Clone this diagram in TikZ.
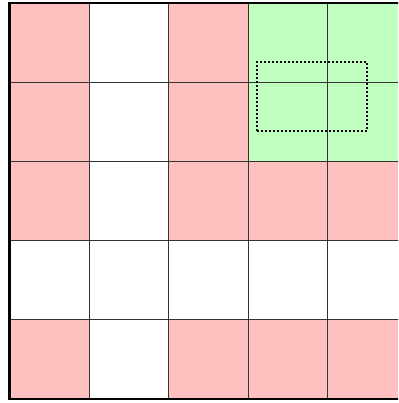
\documentclass[tikz,border=0pt]{standalone}
\definecolor{cpink}{RGB}{255,192,192}
\definecolor{cgreen}{RGB}{192,255,192}
\tikzset{
  pinkcell/.style={fill=cpink},
  greencell/.style={fill=cgreen},
  gridline/.style={line width=0.9pt, draw=black!80},
  border/.style={line width=2.6pt, draw=black},
  selbox/.style={line width=2pt, dash pattern=on 2pt off 2pt, draw=black}
}
\begin{document}
\begin{tikzpicture}[x=1pt,y=-1pt]
\useasboundingbox (0,0) rectangle (398,403);
\clip (0,0) rectangle (398,403);
\def\cw{79.5}
\def\ch{79.2}
\def\xo{9.5}
\def\yo{3}
% fills: row index r (top=0), col c
\foreach \r/\c/\s in {0/0/pinkcell,0/2/pinkcell,0/3/greencell,0/4/greencell,
                      1/0/pinkcell,1/2/pinkcell,1/3/greencell,1/4/greencell,
                      2/0/pinkcell,2/2/pinkcell,2/3/pinkcell,2/4/pinkcell,
                      4/0/pinkcell,4/2/pinkcell,4/3/pinkcell,4/4/pinkcell}{
  \path[\s] ({\xo+\c*\cw},{\yo+\r*\ch}) rectangle ({\xo+(\c+1)*\cw},{\yo+(\r+1)*\ch});
}
% grid lines
\foreach \i in {1,2,3,4}{
  \draw[gridline] ({\xo+\i*\cw},\yo) -- ({\xo+\i*\cw},{\yo+5*\ch});
  \draw[gridline] (\xo,{\yo+\i*\ch}) -- ({\xo+5*\cw},{\yo+\i*\ch});
}
% outer border
\draw[border] (\xo,\yo) rectangle ({\xo+5*\cw},{\yo+5*\ch});
% dotted selection
\node[selbox, draw, minimum width=110pt, minimum height=69pt, inner sep=0pt] (sel) at (312,96.5) {};
\end{tikzpicture}
\end{document}
